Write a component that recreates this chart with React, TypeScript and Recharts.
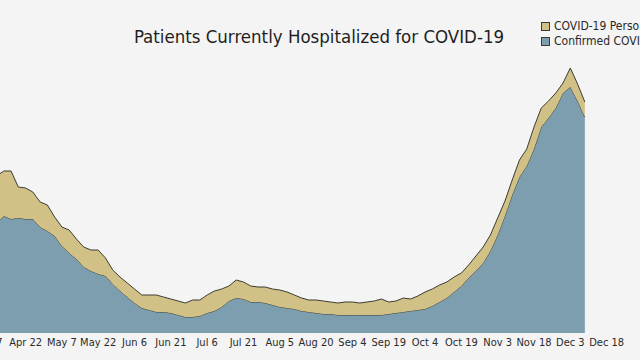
import { AreaChart, Area, XAxis, YAxis } from 'recharts';

// one sample every 3 days, first one on Apr 10 (day -12 counted from Apr 22)
const firstDay = -12;
const stepDays = 3;

const confirmed = [
    1100, 1170, 1140, 1150, 1140, 1140, 1060, 1020, 970, 870,
    800, 740, 660, 620, 590, 570, 490, 420, 360, 300,
    250, 230, 210, 210, 200, 180, 160, 160, 170, 200,
    220, 260, 320, 350, 340, 310, 310, 300, 280, 260,
    250, 240, 220, 210, 200, 190, 190, 180, 180, 180,
    180, 180, 180, 180, 190, 200, 210, 220, 230, 240,
    270, 310, 350, 410, 470, 550, 620, 700, 820, 980,
    1170, 1380, 1560, 1670, 1840, 2060, 2150, 2250, 2400, 2460,
    2320, 2160
];

const underInvestigation = [
    470, 450, 480, 310, 310, 270, 250, 260, 190, 190,
    230, 200, 200, 210, 240, 180, 140, 140, 140, 140,
    130, 150, 170, 150, 140, 140, 140, 170, 160, 180,
    200, 180, 150, 180, 170, 160, 150, 160, 160, 170,
    160, 140, 130, 120, 130, 130, 120, 120, 130, 130,
    120, 130, 140, 160, 120, 120, 140, 120, 140, 170,
    170, 170, 160, 150, 130, 130, 150, 160, 160, 170,
    150, 150, 170, 170, 220, 190, 170, 150, 100, 190,
    170, 150
];

const tickDays = [-15, 0, 15, 30, 45, 60, 75, 90, 105, 120, 135, 150, 165, 180, 195, 210, 225, 240];
const tickLabels = [
    'Apr 7', 'Apr 22', 'May 7', 'May 22', 'Jun 6', 'Jun 21', 'Jul 6', 'Jul 21', 'Aug 5',
    'Aug 20', 'Sep 4', 'Sep 19', 'Oct 4', 'Oct 19', 'Nov 3', 'Nov 18', 'Dec 3', 'Dec 18'
];

const data = confirmed.map((c, i) => ({
    day: firstDay + i * stepDays,
    confirmed: c,
    pui: underInvestigation[i]
}));

const font = '"DejaVu Sans Condensed", "DejaVu Sans", sans-serif';
const BLUE = '#7d9eaf';
const TAN = '#d2c186';
const EDGE = '#3b3d33';

const labelFor = (d: number) => tickLabels[tickDays.indexOf(d)] ?? '';

export default function App() {
    return (
        <div style={{ position: 'fixed', left: 0, top: 0, width: 640, height: 360, overflow: 'hidden', background: '#f4f4f4', fontFamily: font }}>
            {/* chart is wider than the frame, both sides get cut like in the original */}
            <div style={{ position: 'absolute', left: -64, top: 0 }}>
                <AreaChart width={690} height={360} data={data} margin={{ top: 33, right: 0, bottom: 0, left: 0 }}>
                    <XAxis
                        dataKey="day"
                        type="number"
                        domain={[-37, 248]}
                        ticks={tickDays}
                        tickFormatter={labelFor}
                        axisLine={false}
                        tickLine={false}
                        tickSize={0}
                        tickMargin={5}
                        height={27}
                        interval={0}
                        tick={{ fill: '#2a2a2a', fontSize: 11, fontFamily: font }}
                    />
                    <YAxis hide domain={[0, 3000]} />
                    <Area type="linear" dataKey="confirmed" stackId="a" stroke={EDGE} strokeWidth={1} fill={BLUE} fillOpacity={1} isAnimationActive={false} />
                    <Area type="linear" dataKey="pui" stackId="a" stroke={EDGE} strokeWidth={1} fill={TAN} fillOpacity={1} isAnimationActive={false} />
                </AreaChart>
            </div>

            <div style={{ position: 'absolute', left: 0, width: 638, top: 26, textAlign: 'center', fontSize: 18.5, color: '#1e1e1e' }}>
                Patients Currently Hospitalized for COVID-19
            </div>

            <div style={{ position: 'absolute', left: 541, top: 19, fontSize: 12, color: '#2a2a2a', whiteSpace: 'nowrap', lineHeight: '15px' }}>
                {[
                    { color: TAN, label: 'COVID-19 Persons Under Investigation' },
                    { color: BLUE, label: 'Confirmed COVID-19 Patients' }
                ].map((item) => (
                    <div key={item.label} style={{ display: 'flex', alignItems: 'center' }}>
                        <span style={{ width: 7, height: 7, background: item.color, border: `1px solid ${EDGE}`, marginRight: 4 }} />
                        {item.label}
                    </div>
                ))}
            </div>
        </div>
    );
}
